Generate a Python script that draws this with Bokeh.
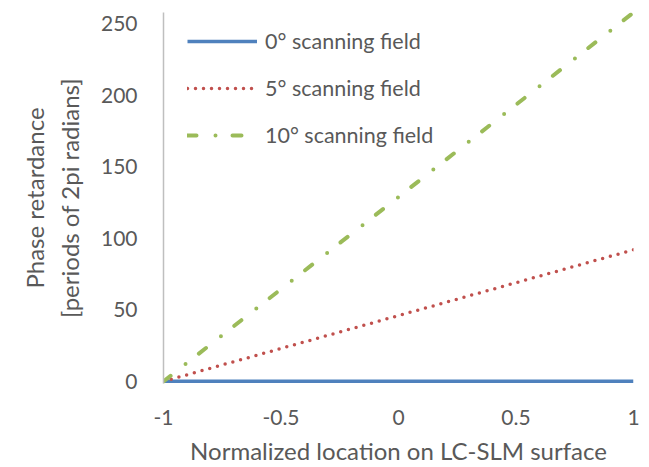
from bokeh.plotting import figure
from bokeh.models import Range1d, FixedTicker, Legend, LegendItem
from bokeh.embed import file_html
from bokeh.resources import INLINE

# Normalized location across the LC-SLM surface
location = [-1.0, 1.0]

# Phase retardance in periods of 2pi radians
field_0deg = [0.0, 0.0]
field_5deg = [0.0, 92.0]
field_10deg = [0.0, 258.0]

x_ticks = [-1, -0.5, 0, 0.5, 1]
x_tick_labels = ["-1", "-0.5", "0", "0.5", "1"]
y_ticks = [0, 50, 100, 150, 200, 250]

FONT = "Lato"
TEXT = "#595959"

p = figure(
    width=649, height=467,
    output_backend="svg", toolbar_location=None,
    x_range=Range1d(-1, 1), y_range=Range1d(-1.5, 258),
    min_border_left=163, min_border_right=16,
    min_border_top=12, min_border_bottom=84,
)
p.outline_line_color = None
p.grid.visible = False
p.background_fill_color = "white"
p.border_fill_color = "white"

r0 = p.line(location, field_0deg, line_color="#4F81BD", line_width=3.5)
r5 = p.line(location, field_5deg, line_color="#C0504D", line_width=3.5,
            line_dash="0 8", line_cap="round")
r10 = p.line(location, field_10deg, line_color="#9BBB59", line_width=4,
             line_dash="9 19 0 17", line_cap="round")

# axes
p.xaxis.ticker = FixedTicker(ticks=x_ticks)
p.xaxis.major_label_overrides = {t: l for t, l in zip(x_ticks, x_tick_labels)}
p.yaxis.ticker = FixedTicker(ticks=y_ticks)
for ax in (p.xaxis, p.yaxis):
    ax.major_tick_line_color = None
    ax.minor_tick_line_color = None
    ax.major_label_text_font = FONT
    ax.major_label_text_font_size = "21px"
    ax.major_label_text_color = TEXT
    ax.axis_label_text_font = FONT
    ax.axis_label_text_font_size = "24px"
    ax.axis_label_text_font_style = "normal"
    ax.axis_label_text_color = TEXT
p.xaxis.axis_line_color = None
p.yaxis.axis_line_color = "#BFBFBF"
p.yaxis.axis_line_width = 1.5
p.xaxis.major_label_standoff = 20
p.yaxis.major_label_standoff = 20
p.xaxis.axis_label = "Normalized location on LC-SLM surface"
p.yaxis.axis_label = "Phase retardance\n[periods of 2pi radians]"
p.xaxis.axis_label_standoff = 8
p.yaxis.axis_label_standoff = 14

legend = Legend(
    items=[
        LegendItem(label="0° scanning field", renderers=[r0]),
        LegendItem(label="5° scanning field", renderers=[r5]),
        LegendItem(label="10° scanning field", renderers=[r10]),
    ],
    location="top_left",
    margin=0, padding=0,
    spacing=21,
    glyph_width=70, glyph_height=24,
    label_height=24,
    label_standoff=8,
    label_text_font=FONT,
    label_text_font_size="21.5px",
    label_text_color=TEXT,
    border_line_color=None,
    background_fill_alpha=0,
)
legend.location = (24, 371 - 20 - 116)
p.add_layout(legend)

open("out.html", "w").write(file_html(p, INLINE))
